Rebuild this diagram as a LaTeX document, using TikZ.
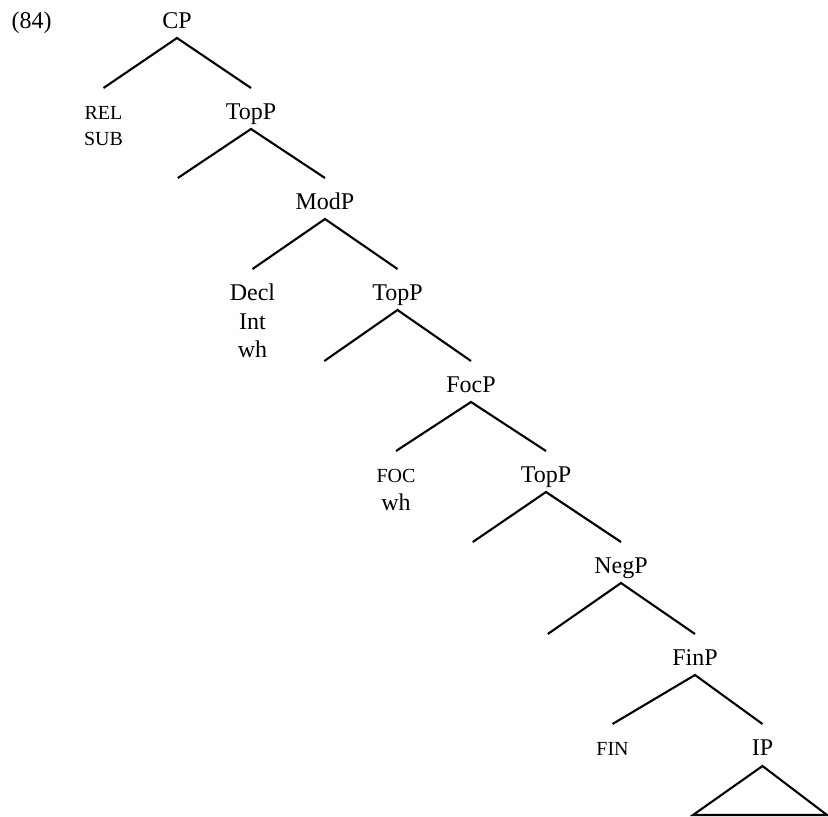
\documentclass[tikz,border=0pt]{standalone}
\usepackage{fontspec}
\setmainfont{Liberation Serif}
\begin{document}
\begin{tikzpicture}[x=1pt,y=-1pt,
  lab/.style={font=\fontsize{24}{28}\selectfont, inner sep=0pt, anchor=base},
  sc/.style={font=\fontsize{20}{26}\selectfont, inner sep=0pt, anchor=north, align=center},
  leaf/.style={font=\fontsize{24}{28.5}\selectfont, inner sep=0pt, anchor=north, align=center},
  br/.style={line width=2.1pt, line join=miter}]
\useasboundingbox (0,0) rectangle (828,817);
\fill[white] (0,0) rectangle (828,817);

\node[lab, anchor=base west] (ex) at (11.5,28) {(84)};

% spine
\node[lab] (CP)  at (177,28)    {CP};
\node[lab] (T1)  at (251,119)   {TopP};
\node[lab] (Mod) at (325,209)   {ModP};
\node[lab] (T2)  at (397.5,300) {TopP};
\node[lab] (Foc) at (471,392)   {FocP};
\node[lab] (T3)  at (546,482)   {TopP};
\node[lab] (Neg) at (621,573)   {NegP};
\node[lab] (Fin) at (695,665)   {FinP};
\node[lab] (IP)  at (762.5,755) {IP};

% left leaves
\node[sc] (REL) at (103.5,105.9) {REL\\SUB};
\node[leaf] (Decl) at (252.5,283.7) {Decl\\Int\\wh};
\node[sc, font=\fontsize{20}{28}\selectfont] (FOC) at (396,468.9) {FOC\\{\fontsize{24}{28}\selectfont wh}};
\node[sc] (FIN) at (612.5,741.9) {FIN};

% empty specifiers
\coordinate (e1) at (177.8,178);
\coordinate (e2) at (324.3,361);
\coordinate (e3) at (472.8,542);
\coordinate (e4) at (547.8,634);

% branches
\draw[br] ([yshift=17.9pt]REL.north) -- ([yshift=-10pt]CP.base) -- ([yshift=31pt]T1.base);
\draw[br] (e1) -- ([yshift=-10pt]T1.base) -- ([yshift=31pt]Mod.base);
\draw[br] ([yshift=14.7pt]Decl.north) -- ([yshift=-10pt]Mod.base) -- ([yshift=31pt]T2.base);
\draw[br] (e2) -- ([yshift=-10pt]T2.base) -- ([yshift=31pt]Foc.base);
\draw[br] ([yshift=17.9pt]FOC.north) -- ([yshift=-10pt]Foc.base) -- ([yshift=31pt]T3.base);
\draw[br] (e3) -- ([yshift=-10pt]T3.base) -- ([yshift=31pt]Neg.base);
\draw[br] (e4) -- ([yshift=-10pt]Neg.base) -- ([yshift=31pt]Fin.base);
\draw[br] ([yshift=17.9pt]FIN.north) -- ([yshift=-10pt]Fin.base) -- ([yshift=31pt]IP.base);

% triangle under IP
\draw[br] ([yshift=-11pt]IP.base) -- ++(-69.5,49) -- ++(134,0) -- cycle;
\end{tikzpicture}
\end{document}
